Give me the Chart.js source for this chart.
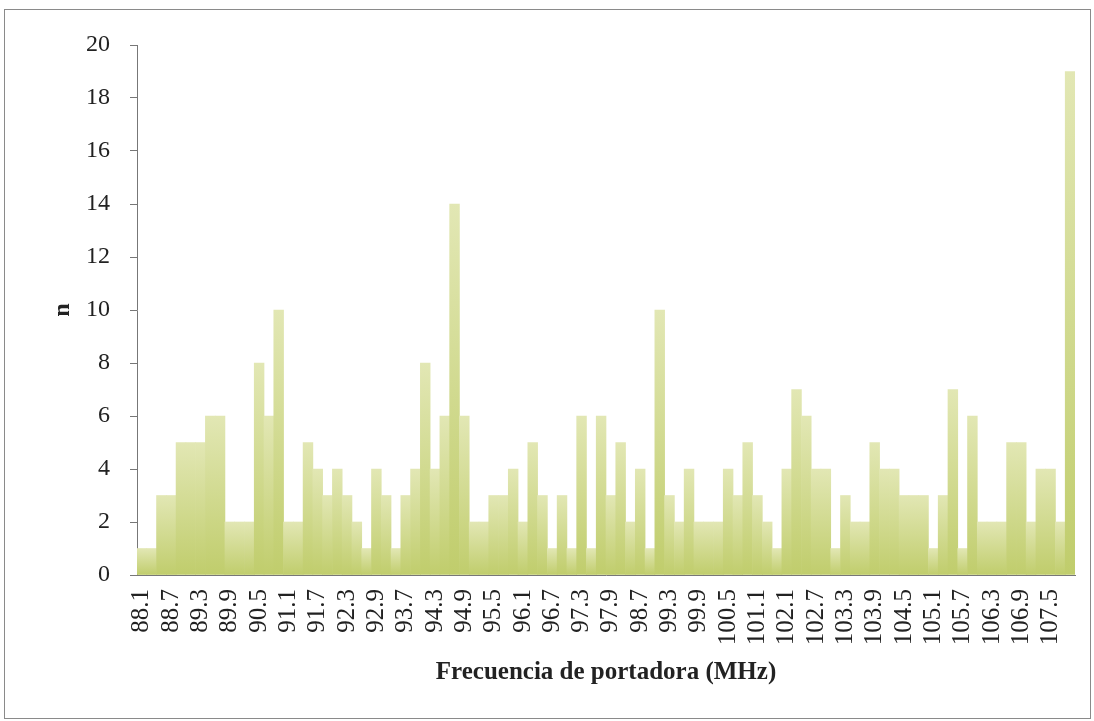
<!DOCTYPE html>
<html>
<head>
<meta charset="utf-8">
<script src="https://cdn.jsdelivr.net/npm/chart.js@4.4.1/dist/chart.umd.min.js"></script>
<style>
  body { margin: 0; background: #fff; }
  #frame { position: absolute; left: 4px; top: 9px; width: 1085px; height: 708px; border: 1px solid #8a8a8a; }
  #chart { position: absolute; left: 0; top: 0; }
</style>
</head>
<body>
<div id="frame"></div>
<canvas id="chart" width="1094" height="721"></canvas>
<script>
// frecuencias presentes (MHz)
const freqs = [
  '88.1','88.3','88.5','88.7','88.9','89.1','89.3','89.5','89.7','89.9',
  '90.1','90.3','90.5','90.7','90.9','91.1','91.3','91.5','91.7','91.9',
  '92.1','92.3','92.5','92.7','92.9','93.1','93.3','93.7','93.9','94.1',
  '94.3','94.5','94.7','94.9','95.1','95.3','95.5','95.7','95.9','96.1',
  '96.3','96.5','96.7','96.9','97.1','97.3','97.5','97.7','97.9','98.1',
  '98.5','98.7','98.9','99.1','99.3','99.5','99.7','99.9','100.1','100.3',
  '100.5','100.7','100.9','101.1','101.5','101.9','102.1','102.3','102.5','102.7',
  '102.9','103.1','103.3','103.5','103.7','103.9','104.1','104.3','104.5','104.7',
  '104.9','105.1','105.3','105.5','105.7','105.9','106.1','106.3','106.5','106.7',
  '106.9','107.1','107.3','107.5','107.7','107.9'
]

// n por frecuencia
const counts = [
  1, 1, 3, 3, 5, 5, 5, 6, 6, 2,
  2, 2, 8, 6, 10, 2, 2, 5, 4, 3,
  4, 3, 2, 1, 4, 3, 1, 3, 4, 8,
  4, 6, 14, 6, 2, 2, 3, 3, 4, 2,
  5, 3, 1, 3, 1, 6, 1, 6, 3, 5,
  2, 4, 1, 10, 3, 2, 4, 2, 2, 2,
  4, 3, 5, 3, 2, 1, 4, 7, 6, 4,
  4, 1, 3, 2, 2, 5, 4, 4, 3, 3,
  3, 1, 3, 7, 1, 6, 2, 2, 2, 5,
  5, 2, 4, 4, 2, 19
]

const yMin = 0
const yMax = 20
const yStep = 2
const labelEvery = 3

function barGradient(ctx) {
    const chart = ctx.chart
    if (!chart.chartArea || ctx.type !== 'data') return '#d2db8e'
    const y = chart.scales.y
    const top = y.getPixelForValue(ctx.raw)
    const bottom = y.getPixelForValue(0)
    const g = chart.ctx.createLinearGradient(0, top, 0, bottom)
    g.addColorStop(0, '#e2e7b4')
    g.addColorStop(1, '#c0cd6c')
    return g
}

const serif = "'Liberation Serif', 'DejaVu Serif', serif"

new Chart(document.getElementById('chart'), {
    type: 'bar',
    data: {
        labels: freqs,
        datasets: [{
            label: 'n',
            data: counts,
            backgroundColor: barGradient,
            borderWidth: 0,
            barPercentage: 1,
            categoryPercentage: 1
        }]
    },
    options: {
        responsive: false,
        animation: false,
        layout: { padding: { left: 48, right: 19, top: 45, bottom: 33 } },
        plugins: { legend: { display: false }, tooltip: { enabled: false } },
        scales: {
            x: {
                grid: { display: false },
                border: { display: true, color: '#777', width: 1 },
                ticks: {
                    autoSkip: false,
                    maxRotation: 90,
                    minRotation: 90,
                    padding: 6,
                    color: '#222',
                    font: { family: serif, size: 25 },
                    callback: (val, i) => i % labelEvery === 0 ? freqs[i] : ''
                },
                title: {
                    display: true,
                    text: 'Frecuencia de portadora (MHz)',
                    color: '#222',
                    font: { family: serif, size: 25, weight: 'bold' },
                    padding: { top: 10, bottom: 0 }
                },
                afterFit: scale => {
                    scale.height = 113
                    scale.paddingLeft = 0
                    scale.paddingRight = 0
                }
            },
            y: {
                min: yMin,
                max: yMax,
                ticks: {
                    stepSize: yStep,
                    padding: 20,
                    color: '#222',
                    font: { family: serif, size: 24 }
                },
                grid: { drawOnChartArea: false, drawTicks: true, tickLength: 7, color: '#777' },
                border: { display: true, color: '#777', width: 1 },
                title: {
                    display: true,
                    text: 'n',
                    color: '#222',
                    font: { family: serif, size: 24, weight: 'bold' },
                    padding: 0
                },
                afterFit: scale => { scale.width = 89 }
            }
        }
    }
})
</script>
</body>
</html>
